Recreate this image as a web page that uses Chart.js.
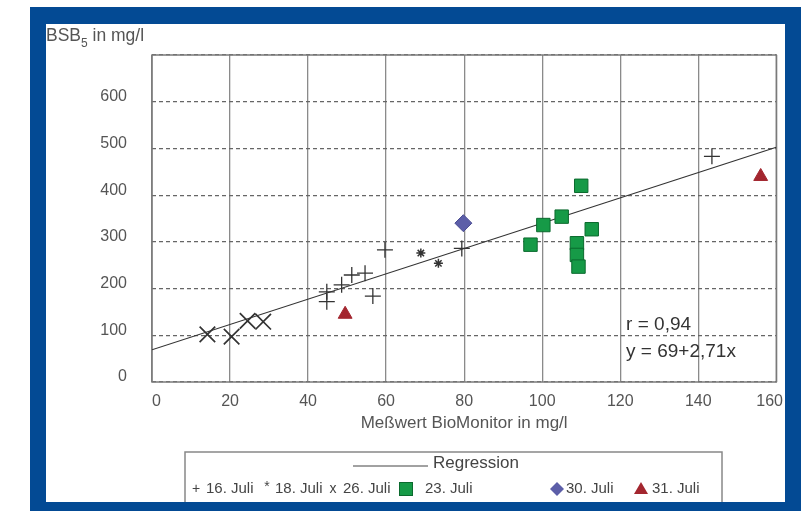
<!DOCTYPE html>
<html>
<head>
<meta charset="utf-8">
<script src="https://cdn.jsdelivr.net/npm/chart.js@4.4.1/dist/chart.umd.min.js"></script>
<style>
  body { margin: 0; background: #fff; width: 805px; height: 511px; overflow: hidden; }
  #frame { position: absolute; left: 30px; top: 7px; width: 771px; height: 504px; background: #034a94; }
  #inner { position: absolute; left: 16px; top: 17px; width: 739px; height: 478px; background: #fff; overflow: hidden; }
</style>
</head>
<body>
<div id="frame"><div id="inner"><canvas id="bsb" width="743" height="478"></canvas></div></div>
<script>
// values: [Messwert BioMonitor, BSB5] in mg/l
var juli16 = [[44.8, 193], [44.8, 172], [48.6, 208], [51.2, 229], [54.6, 233], [56.6, 184], [59.7, 283], [79.4, 286], [143.5, 483]];
var juli18 = [[68.9, 276], [73.4, 254]];
var juli26 = [[14.2, 102], [20.4, 97], [24.5, 131], [28.5, 129]];
var juli23 = [[97, 294], [100.3, 336], [105, 354], [110, 420], [112.7, 327], [108.9, 297], [108.9, 272], [109.3, 247]];
var juli30 = [[79.8, 340]];
var juli31 = [[49.5, 145], [156, 440]];
var regression = [[0, 69], [160, 502.6]];
var statsText = ['r = 0,94', 'y = 69+2,71x'];
var xTitle = 'Meßwert BioMonitor in mg/l';
var legendLabels = ['16. Juli', '18. Juli', '26. Juli', '23. Juli', '30. Juli', '31. Juli'];

var FONT = '"Liberation Sans", Arial, sans-serif';

function pts(arr) {
  return arr.map(function(p) { return {x: p[0], y: p[1]}; });
}

function text(ctx, s, x, y, size, color, align, baseline) {
  ctx.font = size + 'px ' + FONT;
  ctx.fillStyle = color;
  ctx.textAlign = align || 'left';
  ctx.textBaseline = baseline || 'middle';
  ctx.fillText(s, x, y);
  return ctx.measureText(s).width;
}

// frame, y title, r / equation and the legend box
var extras = {
  id: 'extras',
  beforeDatasetsDraw: function(chart) {
    var ctx = chart.ctx, a = chart.chartArea;
    ctx.save();
    ctx.strokeStyle = '#7a7a7a';
    ctx.lineWidth = 1.5;
    ctx.strokeRect(a.left, a.top, a.right - a.left, a.bottom - a.top);
    ctx.restore();
  },
  afterDraw: function(chart) {
    var ctx = chart.ctx;
    var xs = chart.scales.x, ys = chart.scales.y;
    ctx.save();

    // y axis title with subscript
    var w = text(ctx, 'BSB', 0, 17, 17.5, '#555', 'left', 'alphabetic');
    var w2 = text(ctx, '5', w, 23, 12, '#555', 'left', 'alphabetic');
    text(ctx, ' in mg/l', w + w2, 17, 17.5, '#555', 'left', 'alphabetic');

    // regression stats
    text(ctx, statsText[0], xs.getPixelForValue(121.5), ys.getPixelForValue(122), 19, '#333');
    text(ctx, statsText[1], xs.getPixelForValue(121.5), ys.getPixelForValue(64), 19, '#333');

    // legend
    ctx.strokeStyle = '#888';
    ctx.lineWidth = 1.5;
    ctx.strokeRect(139, 428, 537, 70);
    ctx.strokeStyle = '#444';
    ctx.lineWidth = 1;
    ctx.beginPath();
    ctx.moveTo(307, 442);
    ctx.lineTo(382, 442);
    ctx.stroke();
    text(ctx, 'Regression', 387, 439, 17, '#444');

    var ry = 465;
    text(ctx, '+', 150, ry, 14, '#444', 'center');
    text(ctx, legendLabels[0], 160, ry, 15, '#444');
    text(ctx, '*', 221, ry - 2, 14, '#444', 'center');
    text(ctx, legendLabels[1], 229, ry, 15, '#444');
    text(ctx, 'x', 287, ry, 14, '#444', 'center');
    text(ctx, legendLabels[2], 297, ry, 15, '#444');

    ctx.fillStyle = '#169a47';
    ctx.strokeStyle = '#0b6a2e';
    ctx.fillRect(353.5, 458.5, 13, 13);
    ctx.strokeRect(353.5, 458.5, 13, 13);
    text(ctx, legendLabels[3], 379, ry, 15, '#444');

    ctx.fillStyle = '#5c5ea8';
    ctx.beginPath();
    ctx.moveTo(511, ry - 7);
    ctx.lineTo(518, ry);
    ctx.lineTo(511, ry + 7);
    ctx.lineTo(504, ry);
    ctx.closePath();
    ctx.fill();
    text(ctx, legendLabels[4], 520, ry, 15, '#444');

    ctx.fillStyle = '#a3262f';
    ctx.beginPath();
    ctx.moveTo(595, ry - 7);
    ctx.lineTo(602, ry + 5);
    ctx.lineTo(588, ry + 5);
    ctx.closePath();
    ctx.fill();
    text(ctx, legendLabels[5], 606, ry, 15, '#444');

    ctx.restore();
  }
};

Chart.defaults.font.family = FONT;
Chart.defaults.color = '#555';

var chart = new Chart('bsb', {
  type: 'scatter',
  plugins: [extras],
  data: {
    datasets: [
      {
        label: 'Regression',
        data: pts(regression),
        showLine: true,
        borderColor: '#333',
        borderWidth: 1.2,
        pointRadius: 0,
        order: 10
      },
      {
        label: legendLabels[0],
        data: pts(juli16),
        pointStyle: 'cross',
        pointRadius: 8,
        borderColor: '#333',
        borderWidth: 1.3
      },
      {
        label: legendLabels[1],
        data: pts(juli18),
        pointStyle: 'star',
        pointRadius: 4.5,
        borderColor: '#333',
        borderWidth: 1.5
      },
      {
        label: legendLabels[2],
        data: pts(juli26),
        pointStyle: 'crossRot',
        pointRadius: 11,
        borderColor: '#333',
        borderWidth: 1.7
      },
      {
        label: legendLabels[3],
        data: pts(juli23),
        pointStyle: 'rect',
        pointRadius: 9.5,
        backgroundColor: '#169a47',
        borderColor: '#0b6a2e',
        borderWidth: 1
      },
      {
        label: legendLabels[4],
        data: pts(juli30),
        pointStyle: 'rectRot',
        pointRadius: 8.5,
        backgroundColor: '#5c5ea8',
        borderColor: '#4a4c92',
        borderWidth: 1
      },
      {
        label: legendLabels[5],
        data: pts(juli31),
        pointStyle: 'triangle',
        pointRadius: 8,
        backgroundColor: '#a3262f',
        borderColor: '#a3262f',
        borderWidth: 1
      }
    ]
  },
  options: {
    responsive: false,
    animation: false,
    layout: { padding: { top: 31, right: 7, left: 0, bottom: 0 } },
    plugins: {
      legend: { display: false },
      tooltip: { enabled: false }
    },
    scales: {
      x: {
        type: 'linear',
        min: 0,
        max: 160,
        ticks: {
          stepSize: 20,
          padding: 10,
          font: { size: 16 },
          color: '#555',
          // end labels sit a little inside the frame, as in the original
          callback: function(v) {
            if (v === 0) return '  0';
            if (v === 160) return '160   ';
            return v;
          }
        },
        grid: { color: '#8a8a8a', lineWidth: 1.3, drawTicks: false },
        border: { display: false },
        title: { display: true, text: xTitle, font: { size: 17 }, color: '#555', padding: { top: 0, bottom: 68 } },
        afterFit: function(s) { s.height = 120; s.paddingLeft = 0; s.paddingRight = 0; }
      },
      y: {
        type: 'linear',
        min: 0,
        max: 700,
        ticks: {
          stepSize: 100,
          padding: 25,
          labelOffset: -5,
          font: { size: 16 },
          color: '#555',
          callback: function(v) { return v === 700 ? '' : v; }
        },
        grid: { color: '#666', lineWidth: 1.2, drawTicks: false },
        border: { display: false, dash: [4, 3] },
        afterFit: function(s) { s.width = 106; s.paddingTop = 0; s.paddingBottom = 0; }
      }
    }
  }
});
</script>
</body>
</html>
